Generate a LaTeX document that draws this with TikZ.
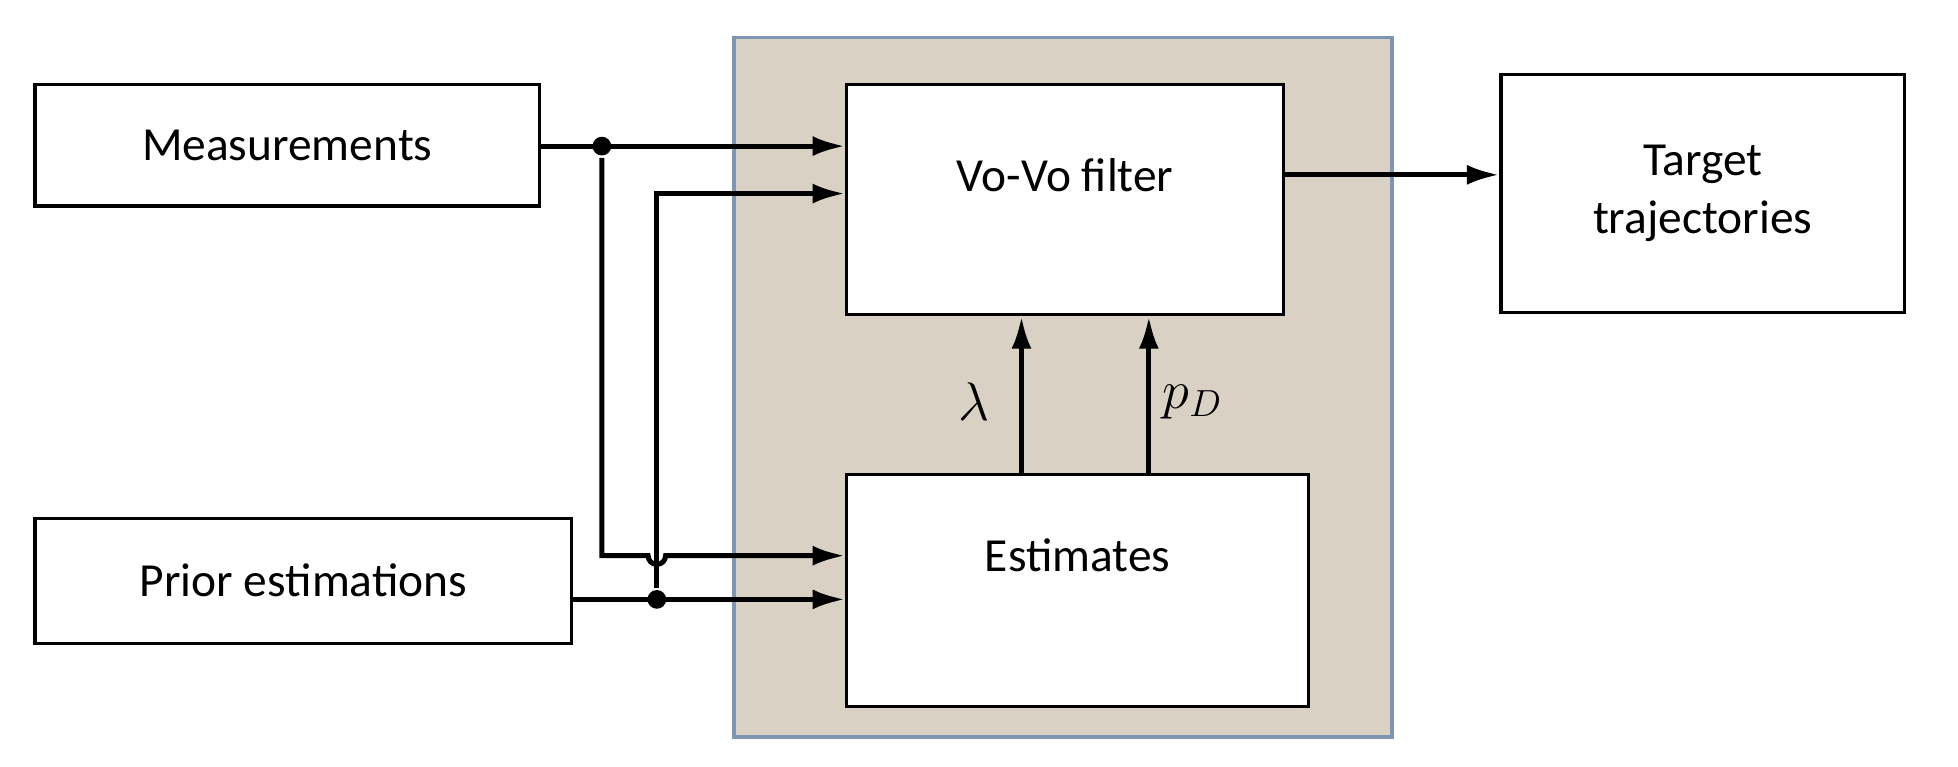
\documentclass[tikz,border=0pt]{standalone}
\usepackage{fontspec}
\setmainfont{Carlito}
\usetikzlibrary{arrows.meta}
\definecolor{panelfill}{RGB}{217,209,196}
\definecolor{panelline}{RGB}{125,150,180}
\tikzset{every picture/.style={line width=4pt}}
\tikzset{
  blk/.style={draw, line width=2.5pt, fill=white, inner sep=0pt, font=\fontsize{38}{46}\selectfont, align=center},
  arr/.style={-{Latex[length=26pt,width=16pt]}},
  dot/.style={circle, fill=black, inner sep=0pt, minimum size=15pt},
  mathlbl/.style={font=\fontsize{20}{24}\selectfont, scale=2.1}
}
\begin{document}
\begin{tikzpicture}[x=1pt,y=1pt,yscale=-1,xscale=1]
	\useasboundingbox (0,0) rectangle (1568,614);
	
	%Shape: Panel
	\draw [draw=panelline, fill=panelfill, line width=3pt] (588,30) rectangle (1115,590);
	
	% Blocks
	\node [blk, minimum width=404pt, minimum height=97pt] (meas) at (230,116.5) {Measurements};
	\node [blk, minimum width=430pt, minimum height=100pt] (prior) at (243,465) {Prior estimations};
	\node [blk, minimum width=350pt, minimum height=184pt] (vovo) at (853,160) {};
	\node [font=\fontsize{38}{46}\selectfont] (vovotxt) at (853,140) {Vo-Vo filter};
	\node [blk, minimum width=370pt, minimum height=186pt] (est) at (863,473) {};
	\node [font=\fontsize{38}{46}\selectfont] (esttxt) at (863,445) {Estimates};
	\node [blk, minimum width=323pt, minimum height=190pt] (target) at (1363.5,155) {Target\\trajectories};
	
	% Junctions
	\node [dot] (jm) at (482,117) {};
	\node [dot] (jp) at (526,480) {};
	
	% Connectors
	\draw [arr] (meas.east |- jm) -- (vovo.west |- jm);
	\draw [arr] (jm) -- (482,445) -- (519,445) arc[start angle=180, end angle=0, radius=7] -- (est.west |- 0,445);
	\draw [arr] (prior.east |- jp) -- (est.west |- jp);
	\draw [arr] (jp) -- (526,155) -- (vovo.west |- 0,155);
	\draw [arr] (vovo.east |- 0,140) -- (target.west |- 0,140);
	\draw [arr] (est.north -| 818,0) -- (vovo.south -| 818,0);
	\draw [arr] (est.north -| 920,0) -- (vovo.south -| 920,0);
	
	% Labels
	\node [mathlbl] (lam) at (780,322) {$\lambda$};
	\node [mathlbl] (pd) at (955,322) {$p_D$};
\end{tikzpicture}
\end{document}
